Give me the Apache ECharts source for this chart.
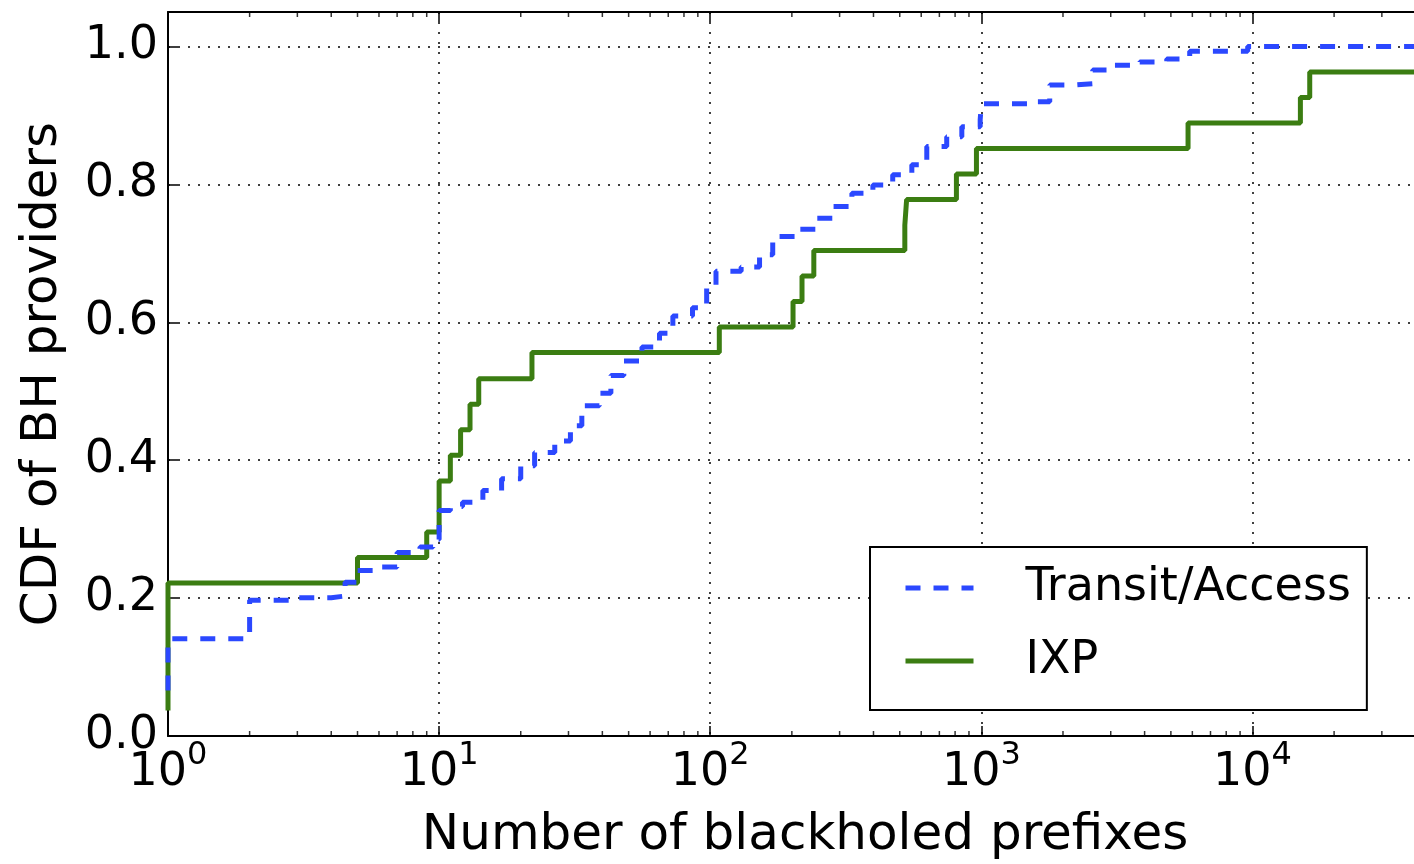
<!DOCTYPE html>
<html><head><meta charset="utf-8">
<script src="https://cdn.jsdelivr.net/npm/echarts@6/dist/echarts.min.js"></script>
<style>html,body{margin:0;padding:0;background:#fff}#c{width:1414px;height:864px}</style>
</head><body><div id="c"></div>
<script>
// ---- data ----
const xTickExponents = [0, 1, 2, 3, 4];
const yTickLabels = ['0.0', '0.2', '0.4', '0.6', '0.8', '1.0'];

const transitX = [1, 1, 2, 3, 4, 4.5, 5, 6, 7, 8.5, 9.5, 10, 11, 12.2, 14.5, 17, 20, 22.5, 26.7, 30.5, 33.6,
  39, 43, 48, 56, 65, 72.8, 86, 97, 105, 130, 152, 170, 209, 247, 283, 333, 398, 471, 554, 629,
  745, 847, 990, 1000, 1508, 1787, 2154, 2575, 3050, 3837, 4828, 5867, 9600];
const transitY = [0.066, 0.141, 0.197, 0.2005, 0.203, 0.223, 0.240, 0.245, 0.266, 0.274, 0.285, 0.327, 0.333, 0.339, 0.356, 0.373, 0.392, 0.411, 0.428, 0.450, 0.479,
  0.497, 0.523, 0.544, 0.564, 0.584, 0.609, 0.621, 0.651, 0.674, 0.680, 0.698, 0.7245, 0.735, 0.751, 0.768, 0.787, 0.799, 0.814, 0.8286, 0.855,
  0.869, 0.8836, 0.894, 0.917, 0.92, 0.944, 0.946, 0.966, 0.9726, 0.9776, 0.982, 0.993, 1.0];

const ixpX = [1, 1, 5, 9, 10, 11, 12, 13, 14, 22, 108, 202, 218, 241, 522, 530, 809, 959, 5785, 15020, 16260];
const ixpY = [0.037, 0.222, 0.259, 0.296, 0.370, 0.407, 0.444, 0.481, 0.518, 0.556, 0.593, 0.630, 0.667, 0.704, 0.741, 0.778, 0.815, 0.852, 0.889, 0.926, 0.963];

const minorMultipliers = [2, 3, 4, 5, 6, 7, 8, 9];
const X_MIN = 1, X_MAX = 50000, Y_MAX = 1.05;

// ---- build ----
const FONT = 'DejaVu Sans';
function pairs(xs, ys) {
  const d = xs.map((x, i) => [x, ys[i]]);
  d.push([X_MAX, ys[ys.length - 1]]);
  return d;
}
const minorTicks = [];
xTickExponents.forEach(e => {
  minorMultipliers.forEach(m => {
    const v = m * Math.pow(10, e);
    if (v < X_MAX) minorTicks.push(v);
  });
});

const chart = echarts.init(document.getElementById('c'), null, { renderer: 'canvas' });
const axisLineStyle = { color: '#000', width: 2 };
const gridLineStyle = { color: '#000', width: 1.5, type: [2, 8] };

chart.setOption({
  animation: false,
  backgroundColor: '#fff',
  grid: { left: 168, top: 12, width: 1274, height: 724, containLabel: false, outerBoundsMode: 'none' },
  legend: {
    data: ['Transit/Access', 'IXP'],
    orient: 'vertical',
    left: 870, top: 547,
    itemWidth: 68, itemHeight: 14, itemGap: 23,
    padding: [16, 16, 24, 33],
    borderColor: '#000', borderWidth: 2, backgroundColor: '#fff',
    itemStyle: { opacity: 0 },
    lineStyle: { width: 5 },
    textStyle: { fontFamily: FONT, fontSize: 46, color: '#000', lineHeight: 50, padding: [0, 0, 0, 47] }
  },
  xAxis: [{
    type: 'log', logBase: 10, min: X_MIN, max: X_MAX, position: 'bottom',
    axisLine: { show: true, lineStyle: axisLineStyle },
    axisTick: { show: true, inside: true, length: 10, lineStyle: { color: '#000', width: 1.5 } },
    axisLabel: {
      margin: 4,
      formatter: function (v) {
        const e = Math.log10(v);
        const r = Math.round(e);
        if (Math.abs(e - r) > 1e-6 || xTickExponents.indexOf(r) < 0) return '';
        return '{a|10}{b|' + r + '}';
      },
      rich: {
        a: { fontFamily: FONT, fontSize: 46, color: '#000', verticalAlign: 'bottom', lineHeight: 56 },
        b: { fontFamily: FONT, fontSize: 32, color: '#000', verticalAlign: 'top', lineHeight: 56 }
      }
    },
    splitLine: { show: true, lineStyle: gridLineStyle },
    name: 'Number of blackholed prefixes', nameLocation: 'middle', nameGap: 75,
    nameTextStyle: { fontFamily: FONT, fontSize: 50, color: '#000' }
  }, {
    type: 'log', logBase: 10, min: X_MIN, max: X_MAX, position: 'top',
    axisLine: { show: true, lineStyle: axisLineStyle },
    axisTick: { show: true, inside: true, length: 10, lineStyle: { color: '#000', width: 1.5 } },
    axisLabel: { show: false },
    splitLine: { show: false }
  }],
  yAxis: {
    type: 'value', min: 0, max: Y_MAX, interval: 0.2,
    axisLine: { show: true, lineStyle: axisLineStyle },
    axisTick: { show: true, inside: true, length: 10, lineStyle: { color: '#000', width: 1.5 } },
    axisLabel: {
      margin: 10, fontFamily: FONT, fontSize: 46, color: '#000',
      formatter: function (v) {
        const k = Math.round(v * 5);
        if (Math.abs(v * 5 - k) > 1e-6 || k >= yTickLabels.length) return '';
        return yTickLabels[k];
      }
    },
    splitLine: { show: true, lineStyle: gridLineStyle },
    name: 'CDF of BH providers', nameLocation: 'middle', nameGap: 100,
    nameTextStyle: { fontFamily: FONT, fontSize: 50, color: '#000' }
  },
  series: [{
    name: 'IXP', type: 'line', step: 'end', data: pairs(ixpX, ixpY),
    symbol: 'none', showSymbol: false, z: 3,
    lineStyle: { color: '#3b7d12', width: 5 }, itemStyle: { color: '#3b7d12' }
  }, {
    name: 'Transit/Access', type: 'line', step: 'end', data: pairs(transitX, transitY),
    symbol: 'none', showSymbol: false, z: 4,
    lineStyle: { color: '#2b48ff', width: 5, type: [15, 13] }, itemStyle: { color: '#2b48ff' }
  }, {
    name: 'minorBottom', type: 'scatter', silent: true, clip: false, z: 6,
    data: minorTicks.map(v => [v, 0]),
    symbol: 'rect', symbolSize: [1.5, 5], symbolOffset: [0, -2.5],
    itemStyle: { color: '#000' }
  }, {
    name: 'minorTop', type: 'scatter', silent: true, clip: false, z: 6,
    data: minorTicks.map(v => [v, Y_MAX]),
    symbol: 'rect', symbolSize: [1.5, 5], symbolOffset: [0, 2.5],
    itemStyle: { color: '#000' }
  }]
});
</script>
</body></html>
